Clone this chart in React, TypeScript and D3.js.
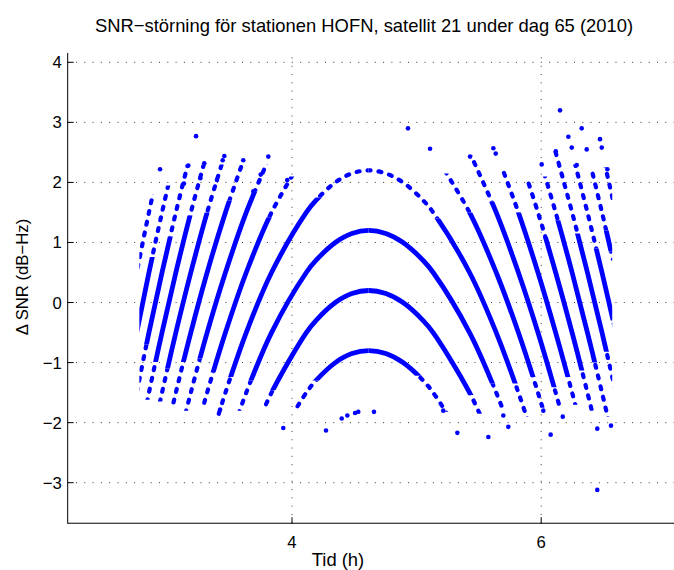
import React from 'react';
import * as d3 from 'd3';

const W = 674;
const H = 570;

// Tick values
const yTicks = [-3, -2, -1, 0, 1, 2, 3, 4];
const xTicks = [4, 6];

// Observation window (hours) and apex of the arcs
const timeStart = 2.775;
const timeEnd = 6.57;
const vertexHour = 4.615;

// Central arcs: [hour, ΔSNR] read along each arc
const arc22 = [[3.361, -2.2], [3.466, -1.5], [3.633, -0.5], [3.836, 0.5], [4.115, 1.5], [4.192, 1.7], [4.348, 2.0], [4.481, 2.15], [4.615, 2.2], [4.753, 2.15], [4.891, 2.0], [5.053, 1.7], [5.133, 1.5], [5.425, 0.5], [5.639, -0.5], [5.817, -1.5], [5.929, -2.2]];
const arc12 = [[3.513, -2.2], [3.633, -1.5], [3.836, -0.5], [4.115, 0.5], [4.192, 0.7], [4.348, 1.0], [4.481, 1.15], [4.615, 1.2], [4.753, 1.15], [4.891, 1.0], [5.053, 0.7], [5.133, 0.5], [5.425, -0.5], [5.639, -1.5], [5.766, -2.2]];
const arc02 = [[3.689, -2.2], [3.836, -1.5], [4.115, -0.5], [4.192, -0.3], [4.348, 0.0], [4.481, 0.15], [4.615, 0.2], [4.753, 0.15], [4.891, 0.0], [5.053, -0.3], [5.133, -0.5], [5.425, -1.5], [5.579, -2.2]];
const arcM08 = [[3.908, -2.2], [4.115, -1.5], [4.192, -1.3], [4.348, -1.0], [4.481, -0.85], [4.615, -0.8], [4.753, -0.85], [4.891, -1.0], [5.053, -1.3], [5.133, -1.5], [5.349, -2.2]];

// Rising traces on the left
const left32 = [[3.226, -2.2], [3.319, -1.5], [3.466, -0.5], [3.633, 0.5], [3.836, 1.5], [4.115, 2.5]];
const left42 = [[3.103, -2.2], [3.188, -1.5], [3.319, -0.5], [3.466, 0.5], [3.633, 1.5], [3.836, 2.5]];
const left52 = [[2.989, -2.2], [3.068, -1.5], [3.188, -0.5], [3.319, 0.5], [3.466, 1.5], [3.633, 2.5]];
const left62 = [[2.883, -2.2], [2.957, -1.5], [3.068, -0.5], [3.188, 0.5], [3.319, 1.5], [3.466, 2.5]];
const left72 = [[2.783, -2.2], [2.852, -1.5], [2.957, -0.5], [3.068, 0.5], [3.188, 1.5], [3.319, 2.5]];
const left82 = [[2.688, -2.2], [2.754, -1.5], [2.852, -0.5], [2.957, 0.5], [3.068, 1.5], [3.188, 2.5]];
const left92 = [[2.660, -1.5], [2.754, -0.5], [2.852, 0.5], [2.957, 1.5], [3.068, 2.5]];
const left102 = [[2.660, -0.5], [2.754, 0.5], [2.852, 1.5], [2.957, 2.5]];

// Falling traces on the right
const right32 = [[5.133, 2.5], [5.425, 1.5], [5.639, 0.5], [5.817, -0.5], [5.974, -1.5], [6.075, -2.2]];
const right42 = [[5.425, 2.5], [5.639, 1.5], [5.817, 0.5], [5.974, -0.5], [6.116, -1.5], [6.209, -2.2]];
const right52 = [[5.639, 2.5], [5.817, 1.5], [5.974, 0.5], [6.116, -0.5], [6.248, -1.5], [6.335, -2.2]];
const right62 = [[5.817, 2.5], [5.974, 1.5], [6.116, 0.5], [6.248, -0.5], [6.371, -1.5], [6.453, -2.2]];
const right72 = [[5.974, 2.5], [6.116, 1.5], [6.248, 0.5], [6.371, -0.5], [6.488, -1.5], [6.566, -2.2]];
const right82 = [[6.116, 2.5], [6.248, 1.5], [6.371, 0.5], [6.488, -0.5], [6.599, -1.5]];
const right92 = [[6.248, 2.5], [6.371, 1.5], [6.488, 0.5], [6.599, -0.5]];
const right102 = [[6.371, 2.5], [6.488, 1.5], [6.599, 0.5]];
const right112 = [[6.488, 2.5], [6.599, 1.5]];

// Which trace each band belongs to, which half of it, and its dense / sparse ΔSNR ranges
const bandTrace = [arc22, arc22, arc12, arc12, arc02, arc02, arcM08, arcM08,
  left32, left42, left52, left62, left72, left82, left92, left102,
  right32, right42, right52, right62, right72, right82, right92, right102, right112];
const bandSide = ['L', 'R', 'L', 'R', 'L', 'R', 'L', 'R',
  'F', 'F', 'F', 'F', 'F', 'F', 'F', 'F',
  'F', 'F', 'F', 'F', 'F', 'F', 'F', 'F', 'F'];
const denseRange = [[-1.24, 1.75], [-1.35, 1.4], [-1.3, 1.25], [-1.35, 1.25], [-1.46, 0.25], [-1.54, 0.25], [-1.3, -0.75], [-1.22, -0.75],
  [-1.16, 1.42], [-0.93, 1.85], [-0.99, 1.7], [-1.1, 1.5], [-0.99, 1.45], [-0.7, 1.1], [-0.5, 0.76], null,
  [-1.24, 1.5], [-1.41, 1.68], [-1.24, 1.5], [-1.13, 1.09], [-1.0, 1.37], [-0.82, 1.15], [-0.3, 0.9], [0.85, 1.2], null];
const sparseRange = [[-1.9, 2.25], [-1.9, 2.25], [-1.8, 1.25], [-1.75, 1.25], [-1.75, 0.25], [-1.85, 0.25], [-1.78, -0.75], [-1.82, -0.75],
  [-1.75, 2.1], [-1.8, 2.3], [-1.7, 2.3], [-1.65, 2.3], [-1.62, 2.3], [-1.6, 2.3], [-1.5, 1.95], [0.5, 1.8],
  [-1.75, 2.15], [-1.75, 2.45], [-1.7, 2.2], [-1.8, 2.05], [-1.9, 2.1], [-1.9, 2.6], [-1.0, 2.3], [0.7, 2.2], [1.7, 2.25]];

// Isolated samples [hour, ΔSNR]
const strayPoints = [
  [3.230, 2.77], [2.941, 2.22], [3.168, 2.28], [3.296, 2.32], [3.457, 2.44], [3.444, 2.37], [3.609, 2.37], [3.810, 2.43],
  [3.749, 2.13], [3.962, 2.04], [3.398, 2.04], [3.264, 2.07], [3.133, 1.98], [3.690, 1.85],
  [4.931, 2.90], [5.108, 2.56], [5.429, 2.43],
  [6.151, 3.20], [6.325, 2.90], [6.218, 2.76], [6.472, 2.72], [5.616, 2.57], [5.635, 2.48], [6.486, 2.58], [6.365, 2.55],
  [6.117, 2.52], [6.245, 2.58], [6.004, 2.30], [6.285, 2.29], [6.531, 2.22],
  [3.930, -2.09], [4.273, -2.13], [4.399, -1.93], [4.444, -1.88], [4.506, -1.84], [4.532, -1.82], [4.658, -1.82],
  [5.214, -1.80], [5.327, -2.17], [5.576, -2.24], [5.696, -1.88], [5.736, -2.07], [6.017, -1.80], [6.076, -2.20],
  [6.173, -1.90], [6.450, -3.12], [6.450, -2.10], [6.560, -2.05], [3.423, -1.78]
];

const FONT = 'Liberation Sans, Arial, Helvetica, sans-serif';
const BLUE = '#0000ff';

export default function App() {
  const x = d3.scaleLinear().domain([2.2, 6]).range([67.7, 541.2]);
  const y = d3.scaleLinear().domain([-3, 4]).range([482.7, 62.3]);
  const line = d3.line<number[]>().x(d => x(d[0])).y(d => y(d[1])).curve(d3.curveCatmullRom.alpha(0.5));

  const axLeft = x(2.2);
  const axTop = y(4.155);
  const axBottom = y(-3.675);
  const xs0 = x(timeStart), xs1 = x(timeEnd), xv = x(vertexHour);

  const spanOf = (s: string) => (s === 'L' ? [xs0, xv] : s === 'R' ? [xv, xs1] : [xs0, xs1]);
  const rect = (sp: number[], lo: number, hi: number, k: string) => (
    <rect key={k} x={sp[0]} width={sp[1] - sp[0]} y={y(hi)} height={Math.max(0, y(lo) - y(hi))} />
  );

  return (
    <svg width={W} height={H} style={{ position: 'absolute', left: 0, top: 0, background: '#fff' }} fontFamily={FONT}>
      <rect x={0} y={0} width={W} height={H} fill="#fff" />
      <defs>
        {bandTrace.map((_, i) => {
          const sp = spanOf(bandSide[i]);
          const dr = denseRange[i];
          const sr = sparseRange[i];
          return (
            <React.Fragment key={i}>
              {dr && <clipPath id={`dense${i}`}>{rect(sp, dr[0], dr[1], 'a')}</clipPath>}
              <clipPath id={`sparse${i}`}>
                {dr ? [rect(sp, sr[0], dr[0], 'b'), rect(sp, dr[1], sr[1], 'c')] : rect(sp, sr[0], sr[1], 'd')}
              </clipPath>
            </React.Fragment>
          );
        })}
      </defs>

      {/* grid */}
      <g stroke="#222" strokeWidth={0.9} strokeDasharray="1 7.3" fill="none">
        {yTicks.map(t => (
          <line key={`gy${t}`} x1={axLeft} x2={W + 20} y1={y(t)} y2={y(t)} />
        ))}
        {xTicks.map(t => (
          <line key={`gx${t}`} x1={x(t)} x2={x(t)} y1={axBottom} y2={axTop} />
        ))}
      </g>

      {/* data */}
      <g fill="none" stroke={BLUE}>
        {bandTrace.map((tr, i) => (
          <g key={i}>
            <path d={line(tr as any) || ''} clipPath={`url(#sparse${i})`} strokeWidth={4.2} strokeLinecap="round" strokeDasharray="3 8" />
            {denseRange[i] && (
              <path d={line(tr as any) || ''} clipPath={`url(#dense${i})`} strokeWidth={4.8} strokeLinecap="round" />
            )}
          </g>
        ))}
      </g>
      <g fill={BLUE}>
        {strayPoints.map((p, i) => (
          <circle key={i} cx={x(p[0])} cy={y(p[1])} r={2.3} />
        ))}
      </g>

      {/* axes */}
      <g stroke="#000" strokeWidth={1} fill="none">
        <line x1={axLeft} x2={axLeft} y1={axTop} y2={axBottom + 0.5} />
        <line x1={axLeft} x2={W + 20} y1={axBottom} y2={axBottom} />
        {yTicks.map(t => (
          <line key={`ty${t}`} x1={axLeft} x2={axLeft + 6} y1={y(t)} y2={y(t)} />
        ))}
        {xTicks.map(t => (
          <line key={`tx${t}`} x1={x(t)} x2={x(t)} y1={axBottom} y2={axBottom - 6} />
        ))}
      </g>
      <g fontSize={16.7} fill="#000">
        {yTicks.map(t => (
          <text key={`ly${t}`} x={axLeft - 6} y={y(t) + 6} textAnchor="end">
            {t < 0 ? `\u2212${-t}` : `${t}`}
          </text>
        ))}
        {xTicks.map(t => (
          <text key={`lx${t}`} x={x(t)} y={axBottom + 25} textAnchor="middle">
            {t}
          </text>
        ))}
      </g>
      <text x={364} y={32} fontSize={18.4} textAnchor="middle">
        SNR{'\u2212'}störning för stationen HOFN, satellit 21 under dag 65 (2010)
      </text>
      <text x={338} y={566} fontSize={18.4} textAnchor="middle">
        Tid (h)
      </text>
      <text transform={`translate(28,277) rotate(-90)`} fontSize={16.7} textAnchor="middle">
        {'\u0394'} SNR (dB{'\u2212'}Hz)
      </text>
    </svg>
  );
}
